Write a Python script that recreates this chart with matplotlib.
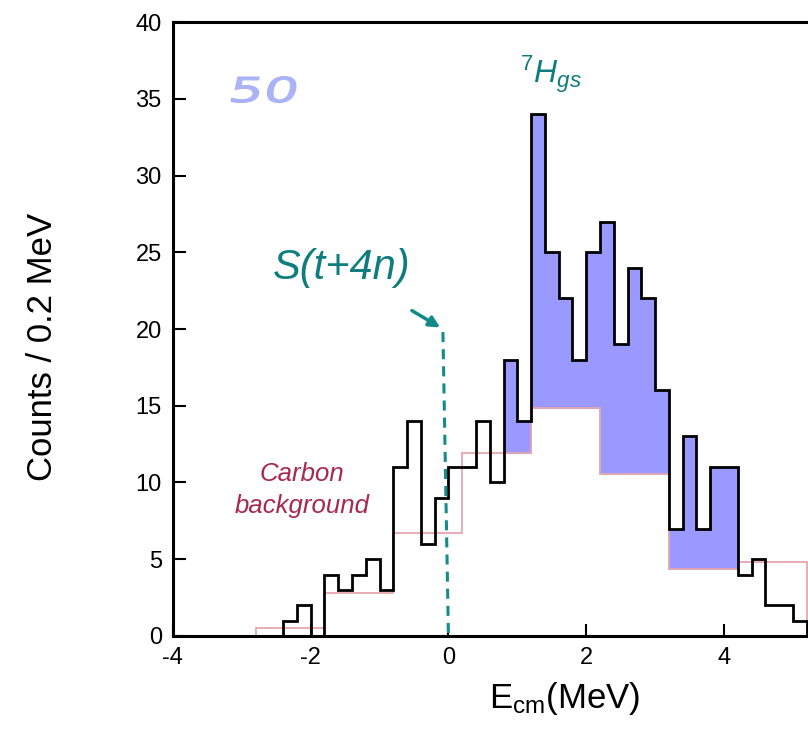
import numpy as np
import matplotlib.pyplot as plt
from matplotlib.textpath import TextPath
from matplotlib.patches import PathPatch
from matplotlib.font_manager import FontProperties
from matplotlib.transforms import Affine2D, IdentityTransform

plt.rcParams['font.family'] = ['Liberation Sans', 'DejaVu Sans']
plt.rcParams['mathtext.fontset'] = 'custom'
plt.rcParams['mathtext.rm'] = 'Liberation Sans'
plt.rcParams['mathtext.it'] = 'Liberation Sans:italic'
plt.rcParams['axes.unicode_minus'] = False

# measured spectrum, 0.2 MeV bins from -4.0 to 5.2 MeV
counts = [0, 0, 0, 0, 0, 0, 0, 0,
          1, 2, 0, 4, 3, 4, 5, 3, 11, 14, 6, 9,
          11, 11, 14, 10, 18, 14, 34, 25, 22, 18,
          25, 27, 19, 24, 22, 16, 7, 13, 7, 11,
          11, 4, 5, 2, 2, 1]
bin_edges = np.round(np.arange(-4.0, 5.21, 0.2), 1)

# carbon background (1 MeV bins, per 0.2 MeV)
bg_edges = [-2.8, -1.8, -0.8, 0.2, 1.2, 2.2, 3.2, 4.2, 5.2]
bg_counts = [0.55, 2.8, 6.7, 11.9, 14.85, 10.55, 4.35, 4.8]

counts = np.array(counts, dtype=float)
centers = bin_edges[:-1] + 0.1
idx = np.searchsorted(bg_edges, centers) - 1
bg_fine = np.where((idx >= 0) & (idx < len(bg_counts)),
                   np.array(bg_counts)[np.clip(idx, 0, len(bg_counts) - 1)], 0)

fig = plt.figure(figsize=(8.08, 7.39), dpi=100)
ax = fig.add_axes([0.214, 0.1394, 0.786, 0.8308])
ax.set_xlim(-4, 5.22)
ax.set_ylim(0, 40)

# shaded 7H signal above background
mask = (centers > 0.8) & (centers < 4.2) & (counts > bg_fine)
ax.bar(bin_edges[:-1][mask], (counts - bg_fine)[mask], width=0.2,
       bottom=bg_fine[mask], align='edge', color='#9999ff',
       edgecolor='#9999ff', linewidth=0.6, zorder=1)

ax.stairs(bg_counts, bg_edges, color='#e6a6ae', lw=1.3, zorder=2)
ax.stairs(counts, bin_edges, color='black', lw=2.0, zorder=3)

# threshold S(t+4n)
teal = '#0d7d7d'
ax.plot([-0.08, 0.0], [19.8, 0.0], color='#148c8c', lw=2.2,
        ls=(0, (3.3, 2.3)), zorder=4)
ax.annotate('', xy=(-0.12, 20.1), xytext=(-0.53, 21.2),
            arrowprops=dict(arrowstyle='-|>', color='#138a8a', lw=2.5,
                            mutation_scale=16, shrinkA=0, shrinkB=0))
ax.text(-1.55, 24.0, 'S(t+4n)', color=teal, fontsize=30, style='italic',
        ha='center', va='center')
ax.text(1.49, 36.6, r'$^{7}H_{gs}$', color=teal, fontsize=23,
        ha='center', va='center')
ax.text(-2.12, 9.5, 'Carbon\nbackground', color='#a8284e', fontsize=18.5,
        style='italic', ha='center', va='center', linespacing=1.45)

# hand-written "50", stretched wide and slanted like the original scribble
tp = TextPath((0, 0), '50', size=30, prop=FontProperties(family='DejaVu Sans'))
ext = tp.get_extents()
cx, cy = ax.transData.transform((-2.67, 35.6))
tr = (Affine2D().translate(-ext.x0 - ext.width / 2, -ext.y0 - ext.height / 2)
      .scale(62 / ext.width, 26 / ext.height).skew_deg(12, 0).translate(cx, cy))
ax.add_patch(PathPatch(tr.transform_path(tp), transform=IdentityTransform(),
                       facecolor='#aab2f8', edgecolor='#aab2f8', lw=0.8,
                       clip_on=False))

ax.set_xticks([-4, -2, 0, 2, 4])
ax.set_yticks(range(0, 41, 5))
ax.tick_params(direction='in', length=9, width=1.5, labelsize=17, pad=8)
for s in ['left', 'bottom', 'top']:
    ax.spines[s].set_linewidth(2.2)
ax.spines['right'].set_visible(False)

ax.set_xlabel(r'E$_{\rm cm}$(MeV)', fontsize=25)
ax.xaxis.set_label_coords(0.617, -0.072)
ax.set_ylabel('Counts / 0.2 MeV', fontsize=25)
ax.yaxis.set_label_coords(-0.18, 0.47)

fig.savefig('out.png', dpi=100)
